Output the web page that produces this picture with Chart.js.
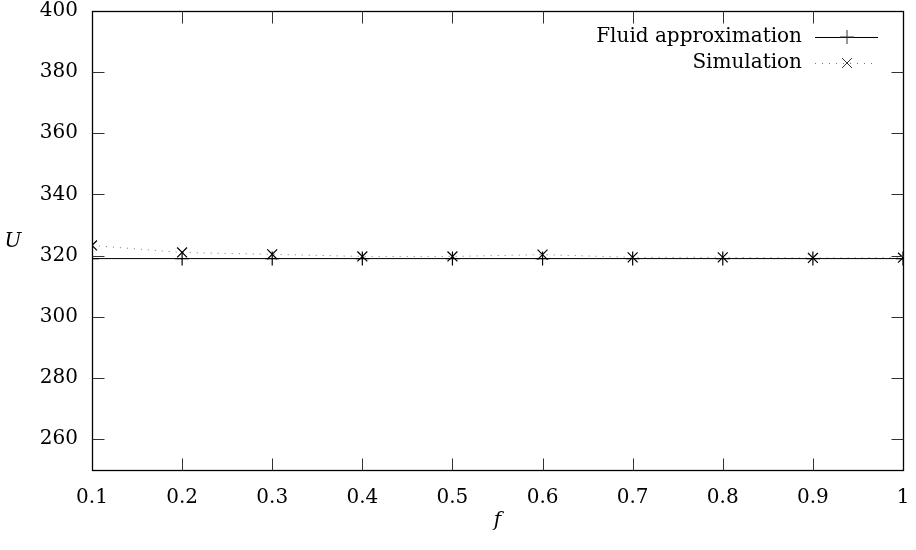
<!DOCTYPE html>
<html>
<head>
<meta charset="utf-8">
<script src="https://cdn.jsdelivr.net/npm/chart.js@4/dist/chart.umd.min.js"></script>
<style>
  html, body { margin: 0; padding: 0; background: #fff; }
  #grafico { display: block; }
</style>
</head>
<body>
<canvas id="grafico" width="916" height="550"></canvas>
<script>
const fValues = [0.1, 0.2, 0.3, 0.4, 0.5, 0.6, 0.7, 0.8, 0.9, 1.0];
const fluidU = [319, 319, 319, 319, 319, 319, 319, 319, 319, 319];
const simU = [323.3, 321.0, 320.4, 319.7, 319.7, 320.3, 319.4, 319.4, 319.2, 319.3];
const xTicks = [0.1, 0.2, 0.3, 0.4, 0.5, 0.6, 0.7, 0.8, 0.9, 1];
const yTicks = [260, 280, 300, 320, 340, 360, 380, 400];
const seriesNames = ["Fluid approximation", "Simulation"];

const serif = "'DejaVu Serif', 'Liberation Serif', serif";
const fontSize = 20;

// gnuplot-like frame: box, inward ticks on all sides, legend, axis titles
const moldura = {
  id: "moldura",
  afterDraw(chart) {
    const ctx = chart.ctx;
    const a = chart.chartArea;
    const xs = chart.scales.x, ys = chart.scales.y;
    const L = Math.round(a.left) + 0.5, R = Math.round(a.right) + 0.5;
    const T = Math.round(a.top) + 0.5, B = Math.round(a.bottom) + 0.5;
    ctx.save();
    ctx.strokeStyle = "#000";
    ctx.lineWidth = 1.3;
    ctx.strokeRect(L, T, R - L, B - T);
    ctx.lineWidth = 1;
    ctx.strokeStyle = "#333";
    const len = 12;
    ctx.beginPath();
    xTicks.forEach(v => {
      const px = Math.round(xs.getPixelForValue(v)) + 0.5;
      if (px <= L + 1 || px >= R - 1) return;
      ctx.moveTo(px, B); ctx.lineTo(px, B - len);
      ctx.moveTo(px, T); ctx.lineTo(px, T + len);
    });
    yTicks.forEach(v => {
      const py = Math.round(ys.getPixelForValue(v)) + 0.5;
      if (py <= T + 1 || py >= B - 1) return;
      ctx.moveTo(L, py); ctx.lineTo(L + len, py);
      ctx.moveTo(R, py); ctx.lineTo(R - len, py);
    });
    ctx.stroke();

    // legenda
    ctx.font = fontSize + "px " + serif;
    ctx.fillStyle = "#000";
    ctx.textAlign = "right";
    ctx.textBaseline = "middle";
    const ds = chart.data.datasets;
    seriesNames.forEach((nome, i) => {
      const y = 37 + i * 26;
      ctx.fillText(nome, 802, y);
      ctx.save();
      ctx.strokeStyle = ds[i].borderColor;
      ctx.lineWidth = 1;
      ctx.setLineDash(ds[i].borderDash || []);
      ctx.beginPath();
      ctx.moveTo(815, y + 0.5); ctx.lineTo(878, y + 0.5);
      ctx.stroke();
      ctx.restore();
      Chart.helpers.drawPoint(ctx, {
        pointStyle: ds[i].pointStyle, radius: 7, borderWidth: 1.2
      }, 847, y);
    });

    // titulos dos eixos
    ctx.font = "italic " + fontSize + "px " + serif;
    ctx.textAlign = "center";
    ctx.fillText("U", 13, 242);
    ctx.fillText("f", (a.left + a.right) / 2, 521);
    ctx.restore();
  }
};

const ctx = document.getElementById("grafico").getContext("2d");
new Chart(ctx, {
  type: "line",
  data: {
    datasets: [{
      label: seriesNames[0],
      data: fValues.map((f, i) => ({ x: f, y: fluidU[i] })),
      borderColor: "#000",
      borderWidth: 1,
      pointStyle: "cross",
      pointRadius: 7,
      pointBorderWidth: 1.2,
      pointBorderColor: "#000",
      tension: 0
    }, {
      label: seriesNames[1],
      data: fValues.map((f, i) => ({ x: f, y: simU[i] })),
      borderColor: "#777",
      borderWidth: 1,
      borderDash: [1, 6],
      pointStyle: "crossRot",
      pointRadius: 7,
      pointBorderWidth: 1.2,
      pointBorderColor: "#000",
      tension: 0
    }]
  },
  options: {
    responsive: false,
    animation: false,
    layout: { padding: { top: 11, right: 13, left: 0, bottom: 0 } },
    plugins: { legend: { display: false }, tooltip: { enabled: false } },
    scales: {
      x: {
        type: "linear",
        min: 0.1,
        max: 1,
        grid: { display: false, drawTicks: false },
        border: { display: false },
        afterBuildTicks: s => { s.ticks = xTicks.map(v => ({ value: v })); },
        afterFit: s => { s.height = 80.5; s.paddingLeft = 0; s.paddingRight = 0; },
        ticks: {
          padding: 16,
          color: "#000",
          maxRotation: 0,
          autoSkip: false,
          font: { family: serif, size: fontSize },
          callback: v => (Math.round(v * 10) / 10).toString()
        }
      },
      y: {
        min: 250,
        max: 400,
        grid: { display: false, drawTicks: false },
        border: { display: false },
        afterBuildTicks: s => { s.ticks = yTicks.map(v => ({ value: v })); },
        afterFit: s => { s.width = 92; s.paddingTop = 0; s.paddingBottom = 0; },
        ticks: {
          padding: 14,
          color: "#000",
          autoSkip: false,
          font: { family: serif, size: fontSize }
        }
      }
    }
  },
  plugins: [moldura]
});
</script>
</body>
</html>
